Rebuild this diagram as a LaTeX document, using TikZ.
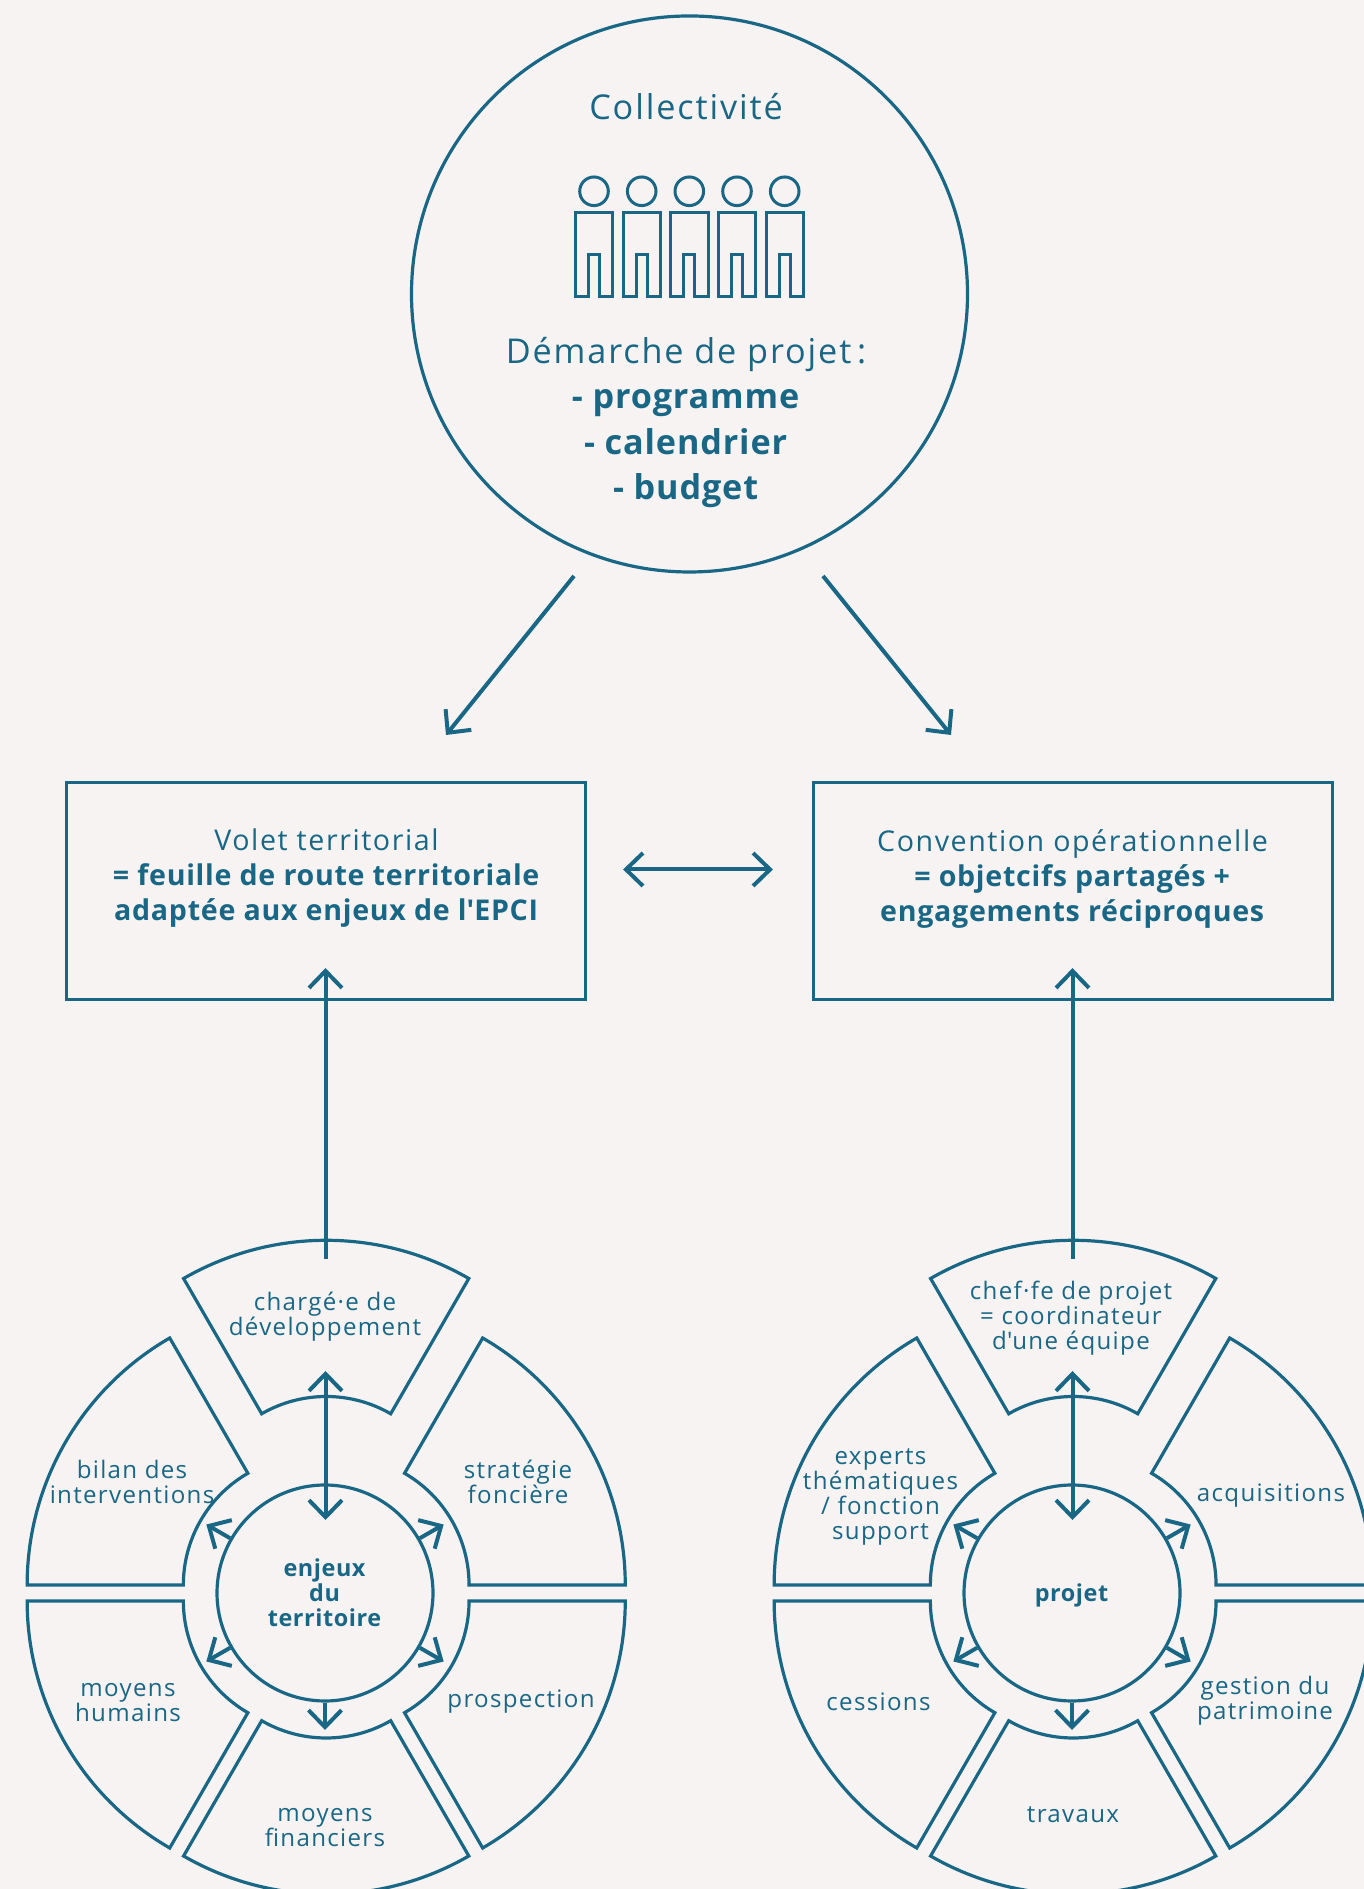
\documentclass[tikz,border=0pt]{standalone}
\usepackage{fontspec}
\setmainfont[LetterSpace=5.5,BoldFeatures={LetterSpace=2.5}]{Open Sans}
\usetikzlibrary{arrows.meta}
\definecolor{paper}{HTML}{F6F3F2}
\definecolor{ink}{HTML}{1A6785}

\tikzset{
  line/.style={draw=ink, line width=1.6pt},
  link/.style={ink, line width=2pt, >={Straight Barb[length=8.5pt,width=16.5pt,line width=2pt]}},
  frame/.style={line, minimum width=259.5pt, minimum height=108.5pt, inner sep=0pt},
  small/.style={ink, align=center, inner sep=0pt, font=\fontsize{12.05}{12.5}\selectfont},
  smallbold/.style={ink, align=center, inner sep=0pt, font=\fontsize{11.7}{12.5}\selectfont\bfseries},
  medium/.style={ink, align=center, inner sep=0pt, font=\fontsize{14.3}{17.7}\selectfont},
  large/.style={ink, align=center, inner sep=0pt, font=\fontsize{17.1}{22.7}\selectfont},
}

\begin{document}
\begin{tikzpicture}[x=0.5pt,y=0.5pt]

      \clip (0,0) rectangle (1364,1889);
      \fill[paper] (0,0) rectangle (1364,1889);

      % top circle
      \node[line, circle, minimum size=278pt, inner sep=0pt] (collectivite) at (689.5,1595) {};
      \node[large] (collectivitetext) at (686,1782) {Collectivité};
      \node[large] (demarche) at (686,1466.5) {Démarche de projet\,:\\\textbf{- programme}\\\textbf{- calendrier}\\\textbf{- budget}};

      % people
      \foreach \px in {594,641.7,689.3,737,784.7} {
        \draw[line, line width=1.5pt] (\px,1697.7) circle (14.3);
        \draw[line, line width=1.5pt] (\px-18.7,1592) -- (\px-18.7,1676) -- (\px+18.7,1676) -- (\px+18.7,1592)
          -- (\px+5.3,1592) -- (\px+5.3,1634) -- (\px-5.7,1634) -- (\px-5.7,1592) -- cycle;
      }

      % boxes
      \node[frame] (volet) at (326,998) {};
      \node[frame] (convention) at (1073,998) {};
      \node[medium] (volettext) at (326.5,1011) {Volet territorial\\\textbf{= feuille de route territoriale}\\\textbf{adaptée aux enjeux de l\textquotesingle EPCI}};
      \node[medium] (conventiontext) at (1072.5,1010) {Convention opérationnelle\\\textbf{= objetcifs partagés +}\\\textbf{engagements réciproques}};

      \coordinate (leftstart) at (574,1313);
      \coordinate (leftend) at (446,1154);
      \coordinate (rightstart) at (823,1313);
      \coordinate (rightend) at (951,1154);
      \draw[link, ->] (leftstart) -- (leftend);
      \draw[link, ->] (rightstart) -- (rightend);
      \draw[link, <->] ([shift={(36,21.5)}]volet.east) -- ([shift={(-39,21.5)}]convention.west);

      % wheels
      \foreach \wname/\wx in {terr/325, proj/1072} {
        \node[line, circle, minimum size=108pt, inner sep=0pt] (core\wname) at (\wx,296) {};
        \foreach \midang/\dist in {90/67.5, 30/16, 330/16, 270/16, 210/16, 150/16} {
          \begin{scope}[shift={(\wx+1.2,296)}, shift={(\midang:\dist)}]
            \pgfmathsetmacro\angone{\midang-30}
            \pgfmathsetmacro\angtwo{\midang+30}
            \draw[line] (\angone:129) arc[start angle=\angone, end angle=\angtwo, radius=129]
              -- (\angtwo:285.2) arc[start angle=\angtwo, end angle=\angone, radius=285.2] -- cycle;
          \end{scope}
        }
        \foreach \ang in {30,150,210,270,330} {
          \draw[link, ->] (core\wname.\ang) -- ([shift={(\ang:137)}]core\wname.center);
        }
        \draw[link, <->] ([shift={(0.5,222)}]core\wname.center) -- ([shift={(0.5,73)}]core\wname.center);
      }
      \draw[link, ->] ([shift={(0.5,334)}]coreterr.center) -- ([shift={(-0.5,33)}]volet.south);
      \draw[link, ->] ([shift={(0.5,334)}]coreproj.center) -- ([shift={(-0.5,33)}]convention.south);

      % left wheel labels
      \node[small] (charge) at (325,572.5) {chargé·e de\\développement};
      \node[small] (bilan) at (132,407) {bilan des\\interventions};
      \node[small] (strategie) at (518,407) {stratégie\\foncière};
      \node[small] (humains) at (128,186.5) {moyens\\humains};
      \node[small] (prospection) at (521,187.5) {prospection};
      \node[small] (financiers) at (325,61.5) {moyens\\financiers};
      \node[smallbold] (enjeux) at (324.5,296) {enjeux\\du\\territoire};

      % right wheel labels
      \node[small] (chef) at (1071,571) {chef·fe de projet\\= coordinateur\\d\textquotesingle une équipe};
      \node[small] (experts) at (880.5,392.5) {experts\\thématiques\\/ fonction\\support};
      \node[small] (acquisitions) at (1271,393) {acquisitions};
      \node[small] (gestion) at (1265,188) {gestion du\\patrimoine};
      \node[small] (cessions) at (878.5,187) {cessions};
      \node[small] (travaux) at (1073,74.5) {travaux};
      \node[smallbold] (projet) at (1071.5,294) {projet};

    \end{tikzpicture}
\end{document}
